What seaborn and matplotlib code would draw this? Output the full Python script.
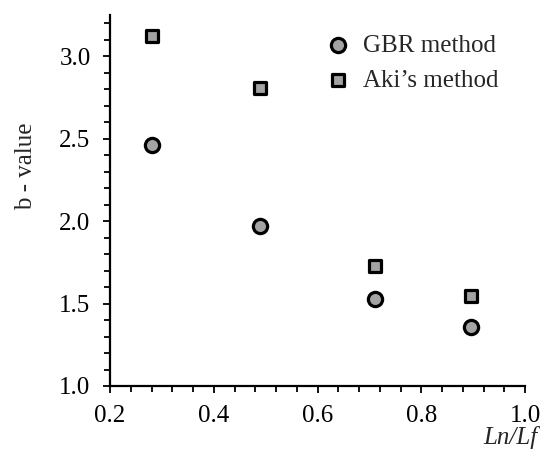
import matplotlib
matplotlib.use("Agg")
import matplotlib.pyplot as plt
import seaborn as sns
import pandas as pd

ratio = [0.28, 0.49, 0.71, 0.895]
gbr_b = [2.46, 1.97, 1.53, 1.355]
aki_b = [3.12, 2.81, 1.725, 1.545]
labels = ["GBR method", "Aki\u2019s method"]
xticks = [0.2, 0.4, 0.6, 0.8, 1.0]
yticks = [1.0, 1.5, 2.0, 2.5, 3.0]
xminor = [0.24, 0.28, 0.32, 0.36, 0.44, 0.48, 0.52, 0.56, 0.64, 0.68, 0.72, 0.76,
          0.84, 0.88, 0.92, 0.96]
yminor = [1.1, 1.2, 1.3, 1.4, 1.6, 1.7, 1.8, 1.9, 2.1, 2.2, 2.3, 2.4, 2.6, 2.7, 2.8,
          2.9, 3.1, 3.2]

sns.set_style("ticks")
plt.rcParams['font.family'] = ['Liberation Serif', 'DejaVu Serif']

fig = plt.figure(figsize=(5.52, 4.57), dpi=100)
ax = fig.add_axes([110/552, 1-386/457, 415/552, 371/457])

df_g = pd.DataFrame({"x": ratio, "y": gbr_b})
df_a = pd.DataFrame({"x": ratio, "y": aki_b})
sns.scatterplot(data=df_g, x="x", y="y", marker="o", s=105, color="#a3a3a3",
                edgecolor="black", linewidth=2.3, label=labels[0], ax=ax, zorder=3,
                clip_on=False)
sns.scatterplot(data=df_a, x="x", y="y", marker="s", s=80, color="#a3a3a3",
                edgecolor="black", linewidth=2.3, label=labels[1], ax=ax, zorder=3,
                clip_on=False)

ax.set_xlim(0.2, 1.0)
ax.set_ylim(1.0, 3.25)
ax.set_xticks(xticks)
ax.set_xticks(xminor, minor=True)
ax.set_yticks(yticks)
ax.set_yticks(yminor, minor=True)
ax.set_xticklabels([f"{v:.1f}" for v in xticks])
ax.set_yticklabels([f"{v:.1f}" for v in yticks])

for s in ["top", "right"]:
    ax.spines[s].set_visible(False)
for s in ["left", "bottom"]:
    ax.spines[s].set_linewidth(1.6)
    ax.spines[s].set_color("black")

ax.tick_params(which="major", direction="out", length=5, width=1.3, labelsize=18,
               colors="black", pad=9)
ax.tick_params(which="minor", direction="out", length=4.5, width=1.3, colors="black")

ax.set_ylabel("b - value", fontsize=18)
ax.yaxis.set_label_coords(-0.175, 0.593)
ax.set_xlabel("Ln/Lf", fontsize=18, fontstyle="italic", ha="right")
ax.xaxis.set_label_coords(1.03, -0.108)

leg = ax.legend(loc="upper right", frameon=False, fontsize=18, handlelength=1.4,
                handletextpad=0.3, labelspacing=0.5, borderaxespad=0.0,
                bbox_to_anchor=(0.96, 0.975))

fig.savefig("out.png", dpi=100)
